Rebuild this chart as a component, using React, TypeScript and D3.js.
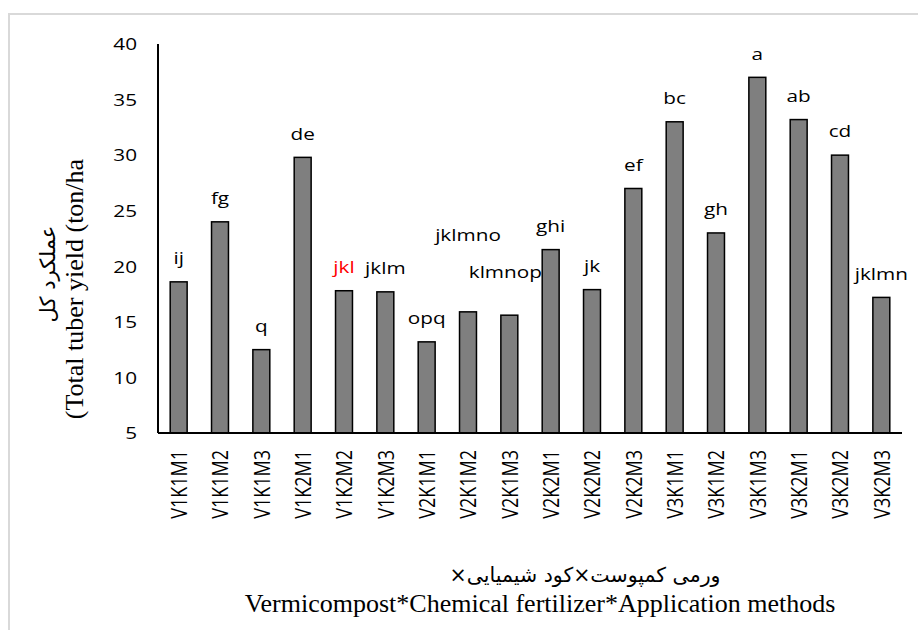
import React from "react";
import * as d3 from "d3";

const categories = [
  "V1K1M1", "V1K1M2", "V1K1M3", "V1K2M1", "V1K2M2", "V1K2M3",
  "V2K1M1", "V2K1M2", "V2K1M3", "V2K2M1", "V2K2M2", "V2K2M3",
  "V3K1M1", "V3K1M2", "V3K1M3", "V3K2M1", "V3K2M2", "V3K2M3",
];
const yieldValues = [18.6, 24.0, 12.5, 29.8, 17.8, 17.7, 13.2, 15.9, 15.6, 21.5, 17.9, 27.0, 33.0, 23.0, 37.0, 33.2, 30.0, 17.2];
const letters = ["ij", "fg", "q", "de", "jkl", "jklm", "opq", "jklmno", "klmnop", "ghi", "jk", "ef", "bc", "gh", "a", "ab", "cd", "jklmn"];
const yTicks = [5, 10, 15, 20, 25, 30, 35, 40];
const yTitleFa = "عملکرد کل";
const yTitleEn = "(Total tuber yield (ton/ha";
const xTitleFa = "ورمی کمپوست×کود شیمیایی×";
const xTitleEn = "Vermicompost*Chemical fertilizer*Application methods";

// manual nudges of a few letter labels (px): [index, dx, dy]
const labelNudges: [number, number, number][] = [
  [7, 0, -53],
  [8, -4, -19],
];

const W = 918;
const H = 630;
const left = 158;
const right = 902;
const top = 44;
const bottom = 433;
const SX = 1.22;
const sans = "'Open Sans', 'Noto Sans', sans-serif";
const serif = "'Liberation Serif', 'Times New Roman', serif";
const arabic = "'DejaVu Sans', sans-serif";

export default function App() {
  const x = d3.scaleBand<string>().domain(categories).range([left, right]).paddingInner(0.59).paddingOuter(0.295);
  const y = d3.scaleLinear().domain([5, 40]).range([bottom, top]);
  const nudge = (i: number) => labelNudges.find((n) => n[0] === i) || [i, 0, 0];

  return (
    <svg width={W} height={H} style={{ position: "absolute", left: 0, top: 0, background: "#fff" }}>
      <rect x={0} y={0} width={W} height={H} fill="#fff" />
      <path d={`M9,${H} V14 H${W}`} fill="none" stroke="#d9d9d9" strokeWidth={2} />

      {categories.map((c, i) => {
        const x0 = x(c)!;
        const yt = y(yieldValues[i]);
        return (
          <rect key={c} x={x0} y={yt} width={x.bandwidth()} height={bottom - yt}
            fill="#7f7f7f" stroke="#000" strokeWidth={1.5} />
        );
      })}

      <line x1={left} x2={left} y1={top} y2={bottom} stroke="#000" strokeWidth={2} />
      <line x1={left} x2={right} y1={bottom} y2={bottom} stroke="#000" strokeWidth={2} />

      {yTicks.map((t) => (
        <text key={t} transform={`translate(137,${y(t)}) scale(${SX},1)`} textAnchor="end"
          dominantBaseline="central" fontFamily={sans} fontSize={17} fill="#000">{t}</text>
      ))}

      {categories.map((c) => (
        <text key={c} transform={`translate(${x(c)! + x.bandwidth() / 2},450) scale(${SX},1) rotate(-90)`}
          textAnchor="end" dominantBaseline="central" fontFamily={sans} fontSize={18} fill="#000">{c}</text>
      ))}

      {categories.map((c, i) => {
        const [, dx, dy] = nudge(i);
        const cx = x(c)! + x.bandwidth() / 2 + dx;
        const cy = y(yieldValues[i]) - 24 + dy;
        return (
          <text key={c} transform={`translate(${cx},${cy}) scale(${SX},1)`} textAnchor="middle"
            dominantBaseline="central" fontFamily={sans} fontSize={17}
            fill={letters[i] === "jkl" ? "#ff0000" : "#000"}>{letters[i]}</text>
        );
      })}

      <text transform="translate(48,274) rotate(-90)" textAnchor="middle" dominantBaseline="central"
        fontFamily={arabic} fontSize={21} direction="rtl" fill="#000">{yTitleFa}</text>
      <text transform="translate(74,289) rotate(-90)" textAnchor="middle" dominantBaseline="central"
        fontFamily={serif} fontSize={26} fill="#000">{yTitleEn}</text>

      <text x={585} y={575} textAnchor="middle" dominantBaseline="central"
        fontFamily={arabic} fontSize={20.5} direction="rtl" fill="#000">{xTitleFa}</text>
      <text x={540} y={603} textAnchor="middle" dominantBaseline="central"
        fontFamily={serif} fontSize={26} fill="#000">{xTitleEn}</text>
    </svg>
  );
}
